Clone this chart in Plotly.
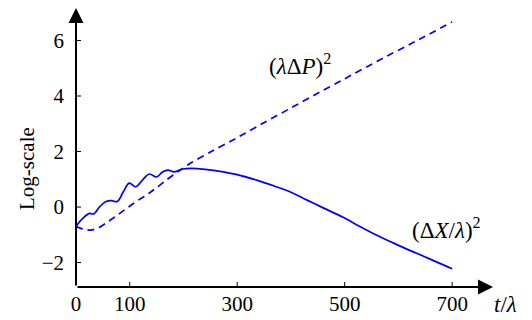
import plotly.graph_objects as go

# ---- data ----
t_dx = [0, 12, 25, 33, 44, 55, 66, 77, 88, 99, 111, 124, 136, 150, 161, 171, 183, 199,
        215, 240, 274, 300, 336, 370, 398, 430, 460, 497, 530, 559, 590, 621, 650, 677, 700]
dx_vals = [-0.70, -0.42, -0.23, -0.25, 0.01, 0.19, 0.23, 0.20, 0.55, 0.86, 0.73, 0.98, 1.19,
           1.09, 1.26, 1.33, 1.27, 1.37,
           1.39, 1.36, 1.27, 1.17, 0.97, 0.75, 0.55, 0.25, -0.03, -0.37, -0.72, -1.01, -1.29,
           -1.56, -1.80, -2.03, -2.22]

t_dp = [0, 14, 28, 42, 57, 75, 94, 112, 131, 150, 168, 190, 212, 250, 300, 348, 400, 448, 500,
        565, 630, 700]
dp_vals = [-0.70, -0.80, -0.83, -0.75, -0.56, -0.32, -0.05, 0.20, 0.43, 0.70, 0.97, 1.28, 1.57,
           1.98, 2.50, 3.02, 3.57, 4.08, 4.62, 5.30, 5.95, 6.67]

x_tick_vals = [0, 100, 300, 500, 700]
x_tick_text = ["0", "100", "300", "500", "700"]
x_tick_marks = [100, 300, 500, 700]
y_tick_vals = [-2, 0, 2, 4, 6]

X_MAX = 776
Y_MIN, Y_MAX = -2.88, 7.17

FONT = "Liberation Serif, Times New Roman, DejaVu Serif, serif"
BLUE = "#0000ff"

fig = go.Figure()
fig.add_trace(go.Scatter(x=t_dp, y=dp_vals, mode="lines",
                         line=dict(color=BLUE, width=1.7, dash="7px,5px", shape="spline", smoothing=0.6),
                         hoverinfo="skip", showlegend=False, cliponaxis=False))
fig.add_trace(go.Scatter(x=t_dx, y=dx_vals, mode="lines",
                         line=dict(color=BLUE, width=1.7, shape="spline", smoothing=1.0),
                         hoverinfo="skip", showlegend=False, cliponaxis=False))

shapes = []
for v in x_tick_marks:
    shapes.append(dict(type="line", xref="x", yref="y", x0=v, x1=v, ysizemode="pixel",
                       yanchor=Y_MIN, y0=-5, y1=5, line=dict(color="black", width=1)))
for v in y_tick_vals:
    shapes.append(dict(type="line", xref="x", yref="y", y0=v, y1=v, xsizemode="pixel",
                       xanchor=0, x0=-5, x1=5, line=dict(color="black", width=1)))

annotations = [
    dict(x=X_MAX, y=Y_MIN, ax=0, ay=Y_MIN, xref="x", yref="y", axref="x", ayref="y",
         text="", showarrow=True, arrowhead=2, arrowsize=1.5, arrowwidth=2,
         arrowcolor="black", standoff=0, startstandoff=0),
    dict(x=0, y=Y_MAX, ax=0, ay=Y_MIN, xref="x", yref="y", axref="x", ayref="y",
         text="", showarrow=True, arrowhead=2, arrowsize=1.5, arrowwidth=2,
         arrowcolor="black", standoff=0, startstandoff=0),
    dict(x=417, y=5.12, xref="x", yref="y", showarrow=False, xanchor="center", yanchor="middle",
         text="(<i>λ</i>Δ<i>P</i>)<sup>2</sup>", font=dict(family=FONT, size=23, color="black")),
    dict(x=690, y=-0.79, xref="x", yref="y", showarrow=False, xanchor="center", yanchor="middle",
         text="(Δ<i>X</i>/<i>λ</i>)<sup>2</sup>", font=dict(family=FONT, size=23, color="black")),
    dict(x=1.029, y=-0.0645, xref="paper", yref="paper", showarrow=False,
         xanchor="center", yanchor="middle",
         text="<i>t</i>/<i>λ</i>", font=dict(family=FONT, size=23, color="black")),
    dict(x=-0.1175, y=0.423, xref="paper", yref="paper", showarrow=False, textangle=-90,
         xanchor="center", yanchor="middle",
         text="Log-scale", font=dict(family=FONT, size=21, color="black")),
]

# the page body adds an 8px offset, so the figure is sized/margined to compensate
fig.update_layout(
    width=524, height=312,
    margin=dict(l=68, r=39, t=0, b=33, pad=0, autoexpand=False),
    paper_bgcolor="white", plot_bgcolor="white",
    shapes=shapes, annotations=annotations,
    xaxis=dict(range=[0, X_MAX], showgrid=False, zeroline=False, showline=False,
               tickvals=x_tick_vals, ticktext=x_tick_text, ticks="", automargin=False,
               tickfont=dict(family=FONT, size=21, color="black"), ticklabelstandoff=2),
    yaxis=dict(range=[Y_MIN, Y_MAX], showgrid=False, zeroline=False, showline=False,
               tickvals=y_tick_vals, ticks="", automargin=False,
               tickfont=dict(family=FONT, size=21, color="black"), ticklabelstandoff=11),
)

fig.write_html("out.html")
